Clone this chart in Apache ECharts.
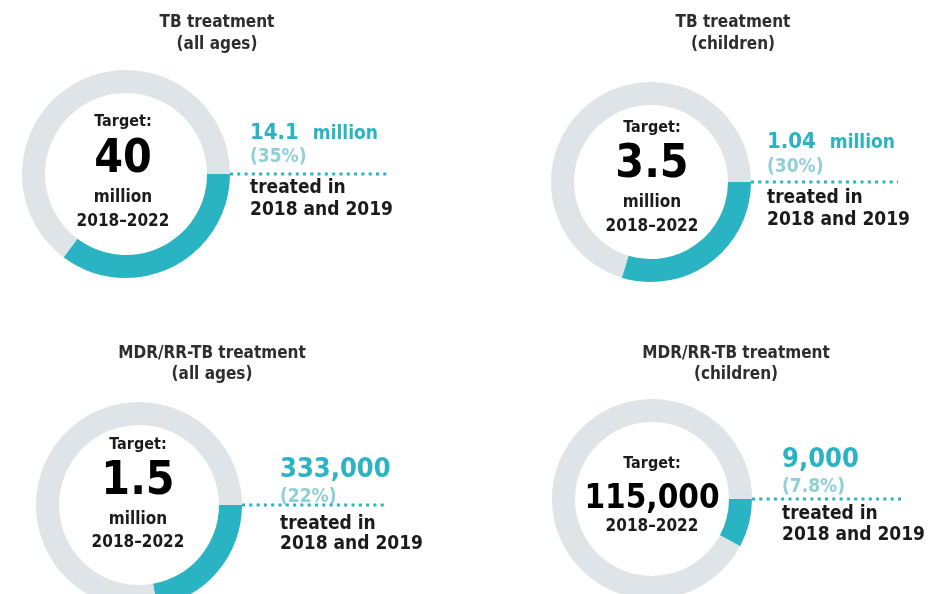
<!DOCTYPE html>
<html>
<head>
<meta charset="utf-8">
<script src="https://cdn.jsdelivr.net/npm/echarts@6/dist/echarts.min.js"></script>
<style>
html,body{margin:0;padding:0;background:#fff;}
#chart{width:940px;height:594px;}
</style>
</head>
<body>
<div id="chart"></div>
<script>
// ---- data ----
const panelTitles = ['TB treatment', 'TB treatment', 'MDR/RR-TB treatment', 'MDR/RR-TB treatment'];
const panelSubtitles = ['(all ages)', '(children)', '(all ages)', '(children)'];
const targetValues = [40000000, 3500000, 1500000, 115000];
const targetLabels = ['40', '3.5', '1.5', '115,000'];
const targetUnits = ['million', 'million', 'million', ''];
const treatedValues = [14100000, 1040000, 333000, 9000];
const treatedLabels = ['14.1', '1.04', '333,000', '9,000'];
const treatedUnits = ['million', 'million', '', ''];
const percentLabels = ['(35%)', '(30%)', '(22%)', '(7.8%)'];
const periodLabel = '2018\u20132022';
const treatedText1 = 'treated in';
const treatedText2 = '2018 and 2019';

// ---- layout ----
const layout = [
  {cx:126, cy:174, r:104, title:[217,23,45], center:[123,122,160,198,222], tx:250, right:[133,157,188,210], lineEnd:390},
  {cx:651, cy:182, r:100, title:[733,23,45], center:[652,128,165,203,227], tx:767, right:[142,167,198,220], lineEnd:898},
  {cx:139, cy:505, r:103, title:[212,354,375], center:[138,445,482,520,543], tx:280, right:[470,497,524,544], lineEnd:387},
  {cx:652, cy:499, r:100, title:[736,354,375], center:[652,464,499,527,527], tx:782, right:[460,487,514,535], lineEnd:902}
];
const TEAL = '#2ab4c3', LIGHTTEAL = '#8fd0d6', GREY = '#dee4e8', DARK = '#1b1b1b';
const FF = '"DejaVu Sans Condensed", "DejaVu Sans", Verdana, sans-serif';
const THICK = 23;

const series = [];
const graphic = [];
function txt(x, y, text, size, color, align, extra) {
  graphic.push(Object.assign({
    type:'text', x:x, y:y, silent:true,
    style:{text:text, fill:color, fontSize:size, fontWeight:'bold', fontFamily:FF,
      align:align||'center', verticalAlign:'middle', textAlign:align||'center', textVerticalAlign:'middle'}
  }, extra||{}));
}
for (let i = 0; i < 4; i++) {
  const L = layout[i];
  series.push({
    type:'pie', center:[L.cx, L.cy], radius:[L.r - THICK, L.r],
    startAngle:0, clockwise:true, silent:true, animation:false,
    label:{show:false}, labelLine:{show:false},
    data:[
      {name:'Treated', value:treatedValues[i], itemStyle:{color:TEAL}},
      {name:'Remaining', value:targetValues[i] - treatedValues[i], itemStyle:{color:GREY}}
    ]
  });
  // titles
  txt(L.title[0], L.title[1], panelTitles[i], 17, '#2e2e2e');
  txt(L.title[0], L.title[2], panelSubtitles[i], 17, '#2e2e2e');
  // center text
  const cxT = L.center[0];
  txt(cxT, L.center[1], 'Target:', 16, DARK);
  if (targetUnits[i]) {
    txt(cxT, L.center[2], targetLabels[i], 46, '#000');
    txt(cxT, L.center[3], targetUnits[i], 17, DARK);
    txt(cxT, L.center[4], periodLabel, 17, DARK);
  } else {
    txt(cxT, L.center[2], targetLabels[i], 33, '#000');
    txt(cxT, L.center[3], periodLabel, 17, DARK);
  }
  // right side
  graphic.push({
    type:'text', x:L.tx, y:L.right[0], silent:true,
    style:{
      text: treatedUnits[i] ? '{a|' + treatedLabels[i] + '}{b|' + treatedUnits[i] + '}' : '{c|' + treatedLabels[i] + '}',
      align:'left', verticalAlign:'middle', textAlign:'left', textVerticalAlign:'middle',
      rich:{
        a:{fontSize:22, fontWeight:'bold', fontFamily:FF, fill:TEAL, color:TEAL},
        b:{fontSize:19, fontWeight:'bold', fontFamily:FF, fill:TEAL, color:TEAL, padding:[2,0,0,14]},
        c:{fontSize:27, fontWeight:'bold', fontFamily:FF, fill:TEAL, color:TEAL}
      }
    }
  });
  txt(L.tx, L.right[1], percentLabels[i], 19, LIGHTTEAL, 'left');
  txt(L.tx, L.right[2], treatedText1, 19, DARK, 'left');
  txt(L.tx, L.right[3], treatedText2, 19, DARK, 'left');
  graphic.push({
    type:'line', silent:true,
    shape:{x1:L.cx + L.r, y1:L.cy, x2:L.lineEnd, y2:L.cy},
    style:{stroke:TEAL, lineWidth:3, lineDash:[3,4.3]}
  });
}

const chart = echarts.init(document.getElementById('chart'), null, {renderer:'canvas'});
chart.setOption({
  backgroundColor:'#fff',
  animation:false,
  series: series,
  graphic: graphic
});
</script>
</body>
</html>
